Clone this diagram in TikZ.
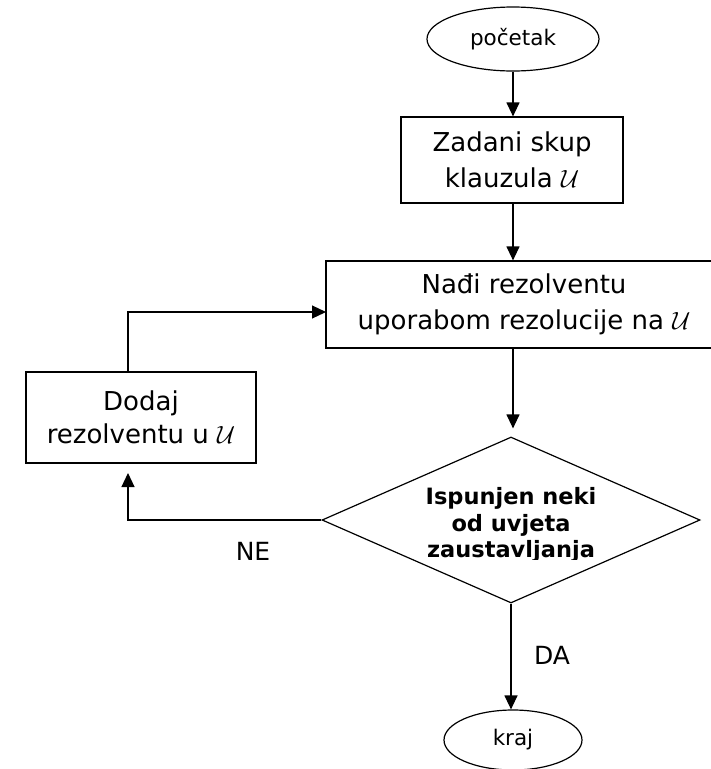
\documentclass[tikz,border=0pt]{standalone}
\usepackage{fontspec}
\setmainfont{DejaVu Sans}
\usetikzlibrary{shapes.geometric,arrows.meta}
\newcommand{\calU}{{\fontsize{30}{36}\selectfont$\mathcal{U}$}}
\begin{document}
\begin{tikzpicture}[x=1pt,y=-1pt,
  box/.style={draw,line width=1.2pt,inner sep=0pt,align=center,font=\fontsize{26}{36}\selectfont},
  term/.style={draw,ellipse,line width=1.2pt,inner sep=0pt,font=\fontsize{21.5}{25}\selectfont},
  dec/.style={draw,diamond,line width=1.2pt,inner sep=0pt},
  arr/.style={line width=1.2pt,-{Triangle[length=14pt,width=13pt]}},
  lab/.style={inner sep=0pt,font=\fontsize{25}{30}\selectfont}]
\useasboundingbox (0,0) rectangle (711,769);
\clip (0,0) rectangle (711,769);
\node[term,minimum width=172pt,minimum height=64pt] (start) at (513,39) {početak};
\node[box,minimum width=222pt,minimum height=86pt] (b1) at (512,160) {Zadani skup\\klauzula \calU};
\node[box,minimum width=396pt,minimum height=87pt] (b2) at (524,304.5) {Nađi rezolventu\\uporabom rezolucije na \calU};
\node[box,minimum width=230pt,minimum height=91pt,font=\fontsize{26}{33}\selectfont] (b3) at (141,417.5) {Dodaj\\rezolventu u \calU};
\node[dec,minimum width=378pt,minimum height=166pt] (d) at (511,520) {};
\begin{scope}
\clip (380,440) rectangle (650,559);
\node[inner sep=0pt,align=center,font=\fontsize{22.5}{26.5}\bfseries\selectfont] (dt) at (511,525) {Ispunjen neki\\od uvjeta\\zaustavljanja};
\end{scope}
\node[term,minimum width=138pt,minimum height=60pt] (kraj) at (513,740) {kraj};
\node[lab] (ne) at (253,551) {NE};
\node[lab] (da) at (552,655) {DA};
\coordinate (netip) at (128,473);
\coordinate (lp) at (128,372);
\coordinate (b2in) at (326,312);
\draw[arr] (start.south) -- (b1.north -| start.south);
\draw[arr] (b1.south -| start.south) -- (b2.north -| start.south);
\draw[arr] (b2.south -| start.south) -- ([yshift=8pt]d.north -| start.south);
\draw[arr] (d.south) -- (kraj.north -| d.south);
\draw[arr] (d.west) -| (netip);
\draw[arr] (lp) |- (b2in);
\end{tikzpicture}
\end{document}
